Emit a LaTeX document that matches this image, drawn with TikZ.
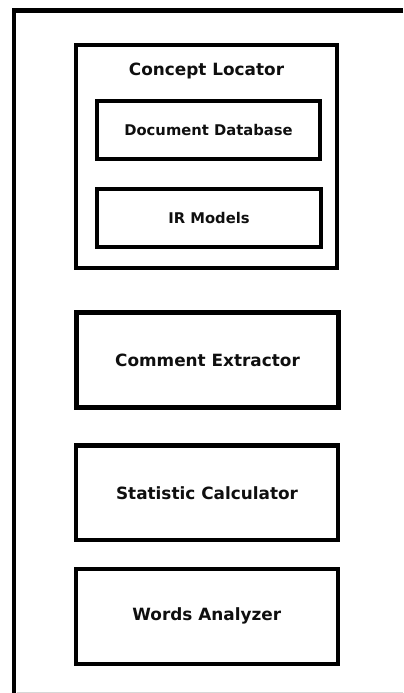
\documentclass[tikz,border=0pt]{standalone}
\usepackage{fontspec}
\setmainfont{DejaVu Sans}
\usetikzlibrary{positioning}
\usepackage{xcolor}
\definecolor{framegray}{RGB}{215, 215, 215}
\definecolor{textdark}{RGB}{15, 15, 15}

\begin{document}
\begin{tikzpicture}[
    module/.style={rectangle, draw=black, line width=3pt, minimum width=6.55cm, minimum height=2.37cm, align=center, font=\fontsize{12}{14}\selectfont\bfseries, text=textdark},
    submodule/.style={rectangle, draw=black, line width=3pt, minimum width=5.59cm, minimum height=1.45cm, align=center, font=\fontsize{10.5}{12}\selectfont\bfseries, text=textdark},
    title/.style={font=\fontsize{12}{14}\selectfont\bfseries, text=textdark},
]
\useasboundingbox (0,0) rectangle (10.075,-17.325);

% Frame
\draw[line width=3pt] (10.075,-0.2625) -- (0.35,-0.2625) -- (0.35,-17.325);
\draw[framegray, line width=0.6pt] (0.42,-17.31) -- (10.075,-17.31);

% Concept Locator
\node[module, minimum width=6.525cm, minimum height=5.575cm] (conceptloc) at (5.1625, -3.9125) {};
\node[title] (conceptlbl) at (5.1625, -1.78) {Concept Locator};
\node[submodule] (docdb) at (5.2125, -3.25) {Document Database};
\node[submodule] (irmodels) at (5.225, -5.45) {IR Models};

% Other modules
\node[module] (commentex) at (5.1875, -9.0) {Comment Extractor};
\node[module] (statcalc) at (5.175, -12.32) {Statistic Calculator};
\node[module] (wordsan) at (5.17, -15.41) {Words Analyzer};

\end{tikzpicture}
\end{document}
